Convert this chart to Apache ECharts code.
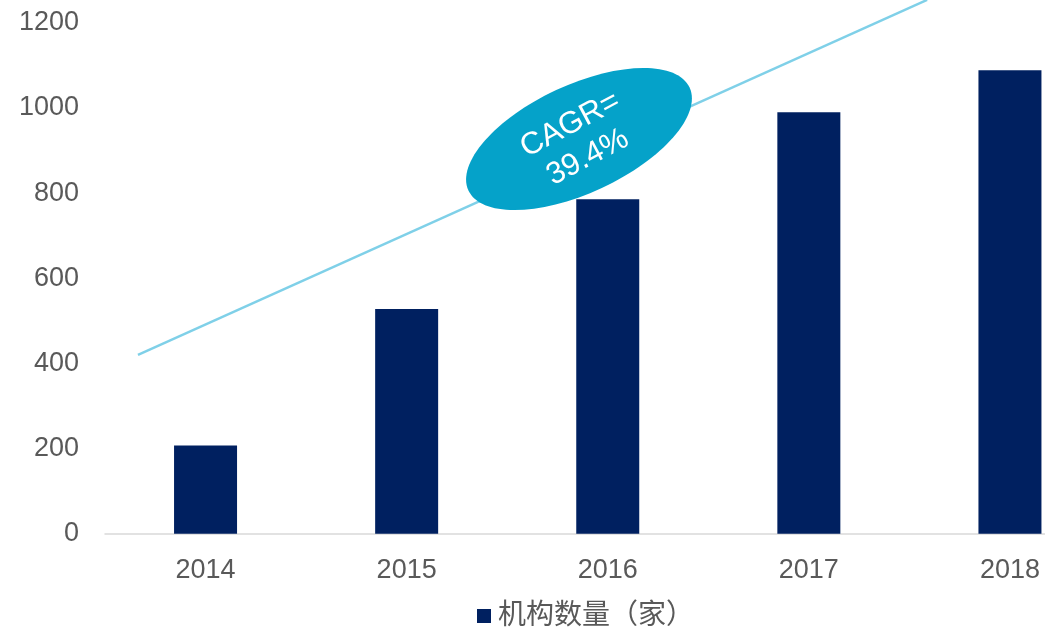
<!DOCTYPE html>
<html>
<head>
<meta charset="utf-8">
<script src="https://cdn.jsdelivr.net/npm/echarts@6/dist/echarts.min.js"></script>
<style>
html,body{margin:0;padding:0;background:#fff;}
#chart{width:1045px;height:629px;}
</style>
</head>
<body>
<div id="chart"></div>
<script>
var categories = ['2014', '2015', '2016', '2017', '2018'];
var institutionCounts = [207, 528, 786, 990, 1089];
var seriesName = '机构数量（家）';
var yTicks = { min: 0, max: 1200, interval: 200 };
// CAGR trend line endpoints: [category position, value]
var trendLine = [[-0.336, 420], [3.588, 1254]];
var cagrLabel = 'CAGR=\n39.4%';

var FONT = '"Liberation Sans", Arial, "Noto Sans CJK SC", sans-serif';
var chart = echarts.init(document.getElementById('chart'), null, {renderer: 'canvas'});
chart.setOption({
  animation: false,
  backgroundColor: '#ffffff',
  grid: { left: 105, width: 1005.5, top: 22.9, height: 510.8, containLabel: false, outerBoundsMode: 'none' },
  xAxis: [{
    type: 'category',
    data: categories,
    axisLine: { show: true, lineStyle: { color: '#d9d9d9', width: 1.5 } },
    axisTick: { show: false },
    axisLabel: { color: '#595959', fontSize: 27, fontFamily: FONT, margin: 23 },
    splitLine: { show: false }
  }, {
    type: 'value', min: -0.5, max: 4.5, show: false
  }],
  yAxis: {
    type: 'value',
    min: yTicks.min, max: yTicks.max, interval: yTicks.interval,
    axisLine: { show: false },
    axisTick: { show: false },
    splitLine: { show: false },
    axisLabel: { color: '#595959', fontSize: 27, fontFamily: FONT, margin: 26,
      formatter: function (v) { return String(v); } }
  },
  legend: {
    data: [{ name: seriesName, icon: 'rect' }],
    left: 472, top: 597,
    itemWidth: 14, itemHeight: 14, itemGap: 10,
    textStyle: { color: '#595959', fontSize: 28, fontFamily: FONT, padding: [0, 0, 0, 2] }
  },
  series: [{
    name: seriesName,
    type: 'bar',
    data: institutionCounts,
    barWidth: 63,
    itemStyle: { color: '#002060' },
    z: 2
  }, {
    name: 'trend',
    type: 'line',
    xAxisIndex: 1,
    data: trendLine,
    symbol: 'none',
    clip: false,
    lineStyle: { color: '#7fd0e8', width: 2.5 },
    z: 3,
    silent: true
  }],
  graphic: [{
    type: 'ellipse',
    x: 579, y: 139,
    rotation: 25 * Math.PI / 180,
    shape: { cx: 0, cy: 0, rx: 122, ry: 54 },
    style: { fill: '#05a2c9' },
    z: 10
  }, {
    type: 'text',
    x: 579, y: 141,
    rotation: 28 * Math.PI / 180,
    style: {
      text: cagrLabel,
      fill: '#ffffff',
      font: '31px "Liberation Sans", Arial, sans-serif',
      textAlign: 'center',
      textVerticalAlign: 'middle',
      lineHeight: 37
    },
    z: 11
  }]
});
</script>
</body>
</html>
